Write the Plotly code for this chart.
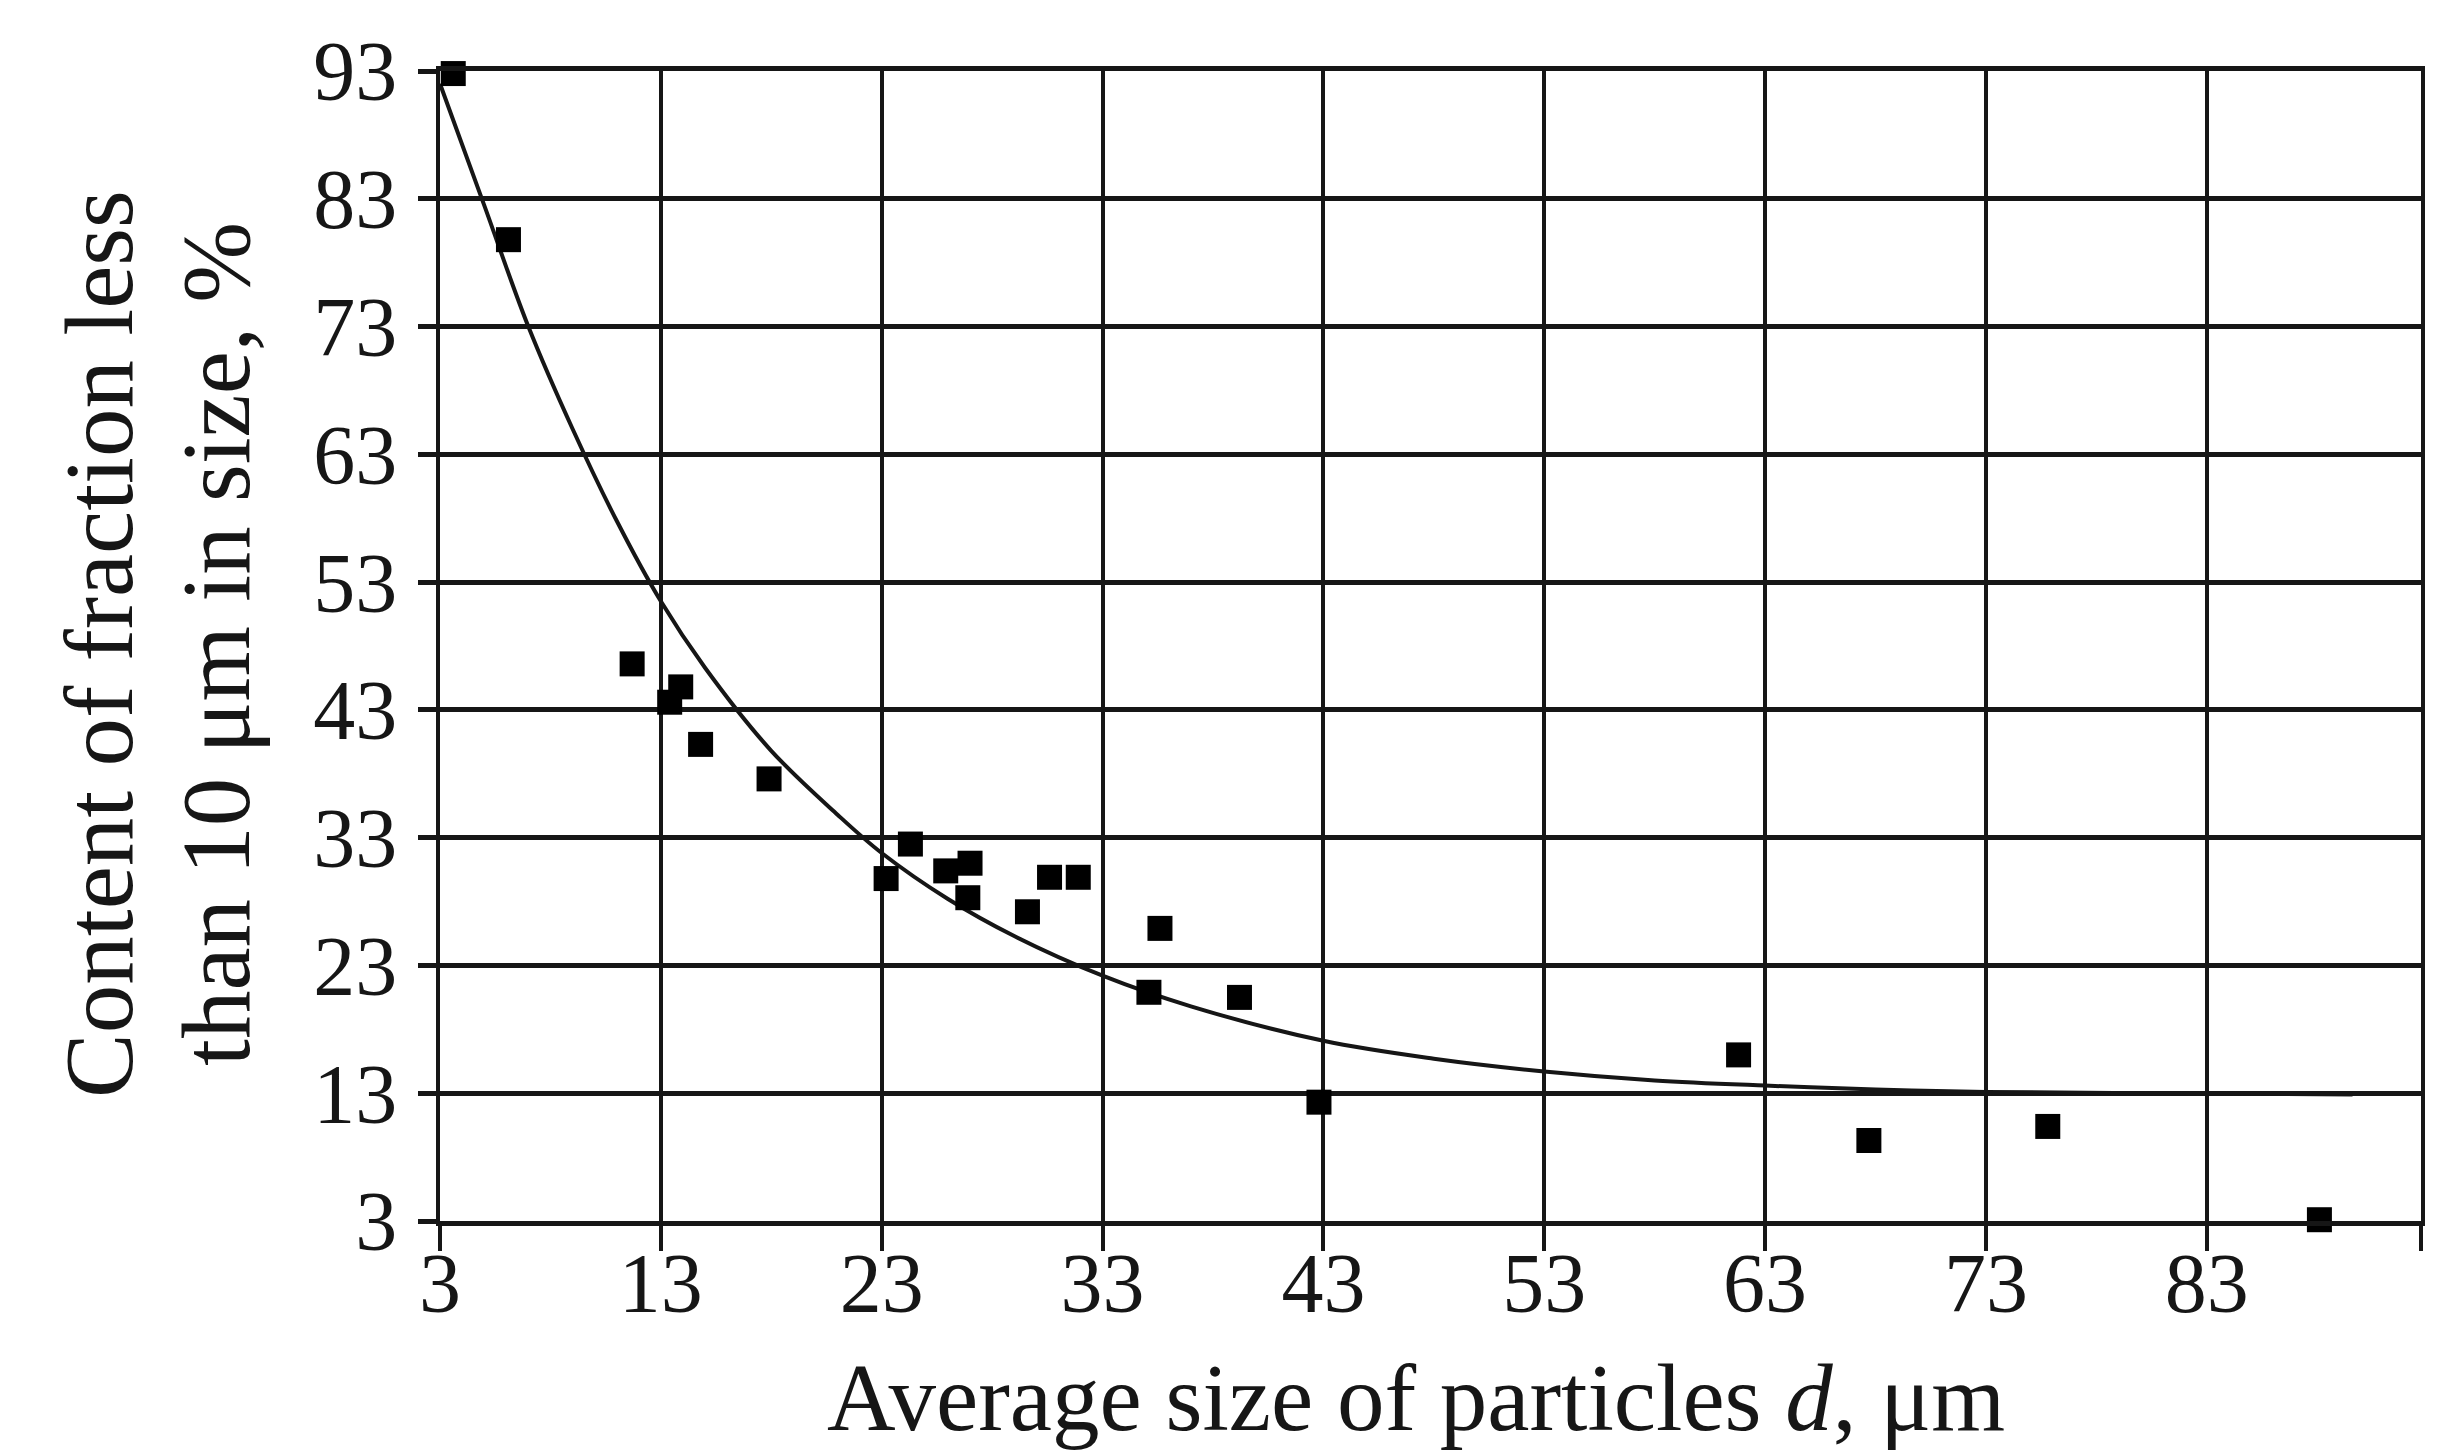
import plotly.graph_objects as go

# measured data points
pts_x = [3.6, 6.1, 11.7, 13.4, 13.9, 14.8, 17.9, 23.2, 24.3, 25.9, 27.0, 26.9,
         29.6, 30.6, 31.9, 35.1, 35.6, 39.2, 42.8, 61.8, 67.7, 75.8, 88.1]
pts_y = [92.8, 79.8, 46.6, 43.6, 44.8, 40.3, 37.6, 29.8, 32.5, 30.4, 31.0, 28.3,
         27.2, 29.9, 29.9, 20.9, 25.9, 20.5, 12.3, 16.0, 9.3, 10.4, 3.1]

# trend curve
curve_x = [3, 5, 7, 9, 11, 13, 15, 18, 21, 23, 26, 29, 33, 37, 43, 48, 53, 58,
           63, 68, 73, 80, 89.6]
curve_y = [92, 82.5, 73, 65, 57.8, 51.5, 46.3, 39.8, 34.8, 31.8, 28.2, 25.3, 22.2, 19.8,
           17.1, 15.7, 14.7, 14.0, 13.6, 13.3, 13.1, 13.0, 12.9]

x_ticks = [3, 13, 23, 33, 43, 53, 63, 73, 83, 92.7]
x_ticktext = ["3", "13", "23", "33", "43", "53", "63", "73", "83", ""]
y_ticks = [3, 13, 23, 33, 43, 53, 63, 73, 83, 93]

x_title = "Average size of particles <i>d</i>, μm"
y_title_1 = "Content of fraction less"
y_title_2 = "than 10 μm in size, %"

W, H = 2450, 1452
L, R, T, B = 432, 37, 63, 239
pw = W - L - R
ph = H - T - B

FONT = "Liberation Serif"
INK = "#161616"

fig = go.Figure()
fig.add_trace(go.Scatter(x=curve_x, y=curve_y, mode="lines",
                         line=dict(color=INK, width=4, shape="spline"),
                         hoverinfo="skip", showlegend=False))
fig.add_trace(go.Scatter(x=pts_x, y=pts_y, mode="markers",
                         marker=dict(symbol="square", size=25, color="#000"),
                         showlegend=False, cliponaxis=False))


def px_x(p):
    return (p - L) / pw


def px_y(p):
    return (T + ph - p) / ph


fig.update_layout(
    template="none",
    width=W, height=H,
    margin=dict(l=L, r=R, t=T, b=B),
    paper_bgcolor="white", plot_bgcolor="white",
    font=dict(family=FONT, color=INK),
    showlegend=False,
    xaxis=dict(range=[3, 92.7], tickvals=x_ticks, ticktext=x_ticktext,
               showgrid=True, gridcolor=INK, gridwidth=4,
               showline=True, linecolor=INK, linewidth=5, mirror=True,
               ticks="outside", ticklen=25, tickwidth=4, tickcolor=INK,
               ticklabelstandoff=-40,
               tickfont=dict(family=FONT, size=84, color=INK),
               zeroline=False, fixedrange=True, automargin=False),
    yaxis=dict(range=[3, 93], tickvals=y_ticks,
               showgrid=True, gridcolor=INK, gridwidth=5,
               showline=True, linecolor=INK, linewidth=4, mirror=True,
               ticks="outside", ticklen=18, tickwidth=5, tickcolor=INK,
               ticklabelstandoff=4,
               tickfont=dict(family=FONT, size=84, color=INK),
               zeroline=False, fixedrange=True, automargin=False),
    annotations=[
        dict(text=x_title, xref="paper", yref="paper",
             x=px_x(1408), y=px_y(1390),
             xanchor="center", yanchor="middle", showarrow=False,
             font=dict(family=FONT, size=95, color=INK)),
        dict(text=y_title_1, xref="paper", yref="paper",
             x=px_x(91), y=px_y(636),
             xanchor="center", yanchor="middle", showarrow=False,
             textangle=-90,
             font=dict(family=FONT, size=97, color=INK)),
        dict(text=y_title_2, xref="paper", yref="paper",
             x=px_x(208), y=px_y(636),
             xanchor="center", yanchor="middle", showarrow=False,
             textangle=-90,
             font=dict(family=FONT, size=97, color=INK)),
    ],
)

fig.write_html("out.html")
